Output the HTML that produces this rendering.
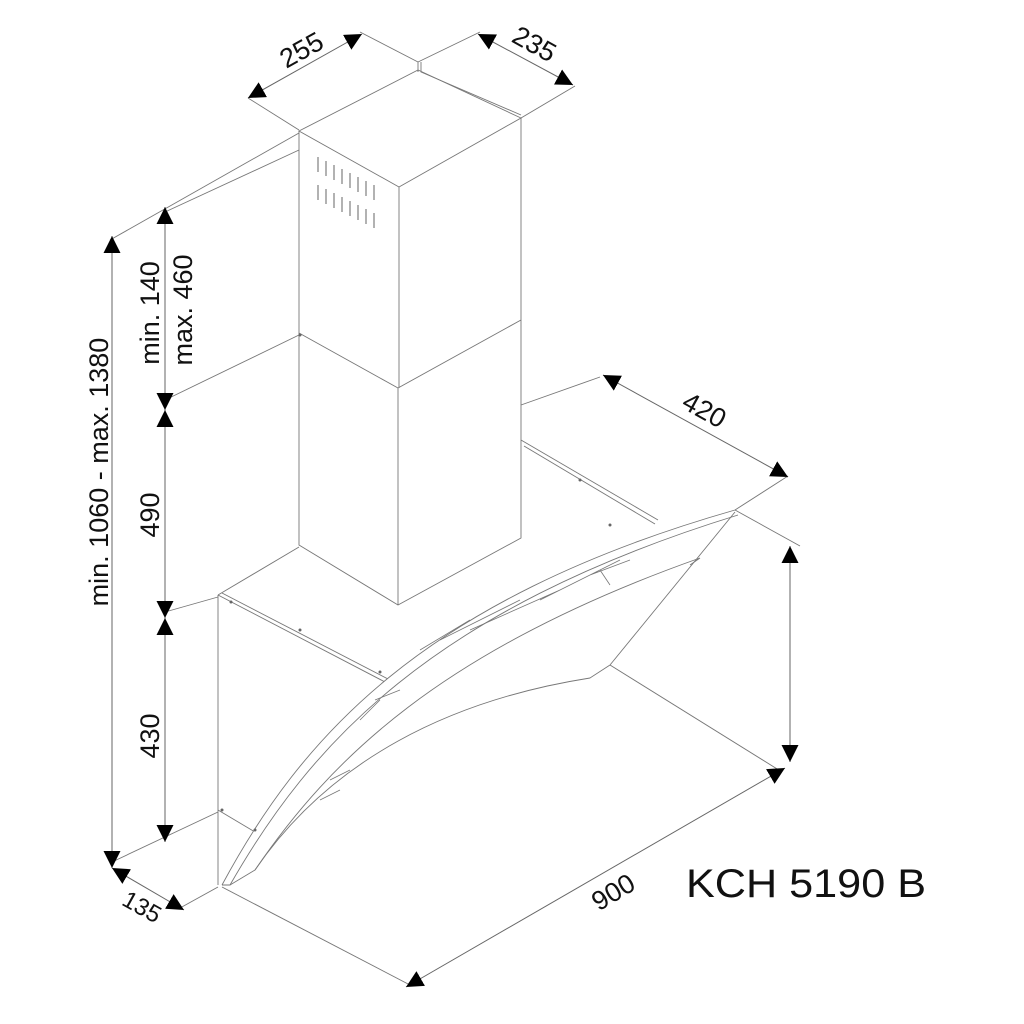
<!DOCTYPE html>
<html><head><meta charset="utf-8"><style>
html,body{margin:0;padding:0;background:#fff;}
svg{display:block;}
text{font-family:"Liberation Sans",sans-serif;fill:#111;}
</style></head><body>
<svg width="1024" height="1024" viewBox="0 0 1024 1024" xmlns="http://www.w3.org/2000/svg">
<defs>
<marker id="a" viewBox="0 0 10 10" refX="10" refY="5" markerWidth="17" markerHeight="17" markerUnits="userSpaceOnUse" orient="auto-start-reverse"><path d="M0,0 L10,5 L0,10 z" fill="#000"/></marker>
</defs>
<g fill="none" stroke="#777" stroke-width="0.9">
<polygon points="299,131 418,70 521,118 399,187" fill="#fff"/>
<line x1="299" y1="131" x2="299" y2="333"/>
<line x1="399" y1="187" x2="399" y2="388"/>
<line x1="521" y1="118" x2="521" y2="320"/>
<path d="M418,72 L418,62 M421,62 L421,72 L521,115"/>
<g stroke="#555">
<path d="M318,157v15M326,161v15M334,165v15M342,169v15M350,173v15M358,177v15M366,181v15M374,185v15"/>
<path d="M318,185v15M326,189v15M334,193v15M342,197v15M350,201v15M358,205v15M366,209v15M374,213v15"/>
</g>
<polyline points="299,333 398,388 521,320"/>
<line x1="398" y1="388" x2="398" y2="605"/>
<polyline points="299,333 299,545 398,605 521,538 521,320"/>
<line x1="218" y1="595" x2="218" y2="885"/>
<polyline points="218,595 299,547"/>
<path d="M218,595 L385,682 M222,593 L388,679"/>
<line x1="521" y1="440" x2="658" y2="520"/>
<line x1="524" y1="446" x2="655" y2="524"/>
<line x1="521" y1="405" x2="600" y2="377"/>
<line x1="218" y1="810" x2="255" y2="832"/>
<path d="M222,885 C300,740 420,600 735,510" fill="#fff"/>
<path d="M222,885 L230,885 C310,745 430,610 738,515"/>
<path d="M255,870 C330,760 440,650 700,558 L690,565"/>
<line x1="735" y1="512" x2="610" y2="665"/>
<path d="M610,665 L590,678 C450,700 330,760 255,870 L230,885"/>
<line x1="610" y1="665" x2="782" y2="772"/>
<line x1="735" y1="510" x2="800" y2="546"/>
<line x1="735" y1="510" x2="788" y2="476"/>
<line x1="222" y1="887" x2="410" y2="985"/>
<line x1="110" y1="240" x2="299" y2="133"/>
<line x1="165" y1="400" x2="299" y2="335"/>
<line x1="165" y1="612" x2="218" y2="597"/>
<line x1="112" y1="862" x2="218" y2="812"/>
<line x1="180" y1="908" x2="218" y2="887"/>
<line x1="248" y1="98" x2="299" y2="130"/>
<line x1="360" y1="32" x2="418" y2="62"/>
<line x1="418" y1="62" x2="480" y2="32"/>
<line x1="521" y1="118" x2="575" y2="86"/>
<line x1="165" y1="212" x2="299" y2="150"/>
</g>
<g stroke="#777" stroke-width="0.8" fill="none">
<path d="M420,650 L470,620 M440,640 L520,600 M470,630 L560,590 M540,600 L620,560 M590,575 L630,560 M600,570 L610,585"/>
<path d="M330,780 L350,770 M320,800 L340,790 M360,720 L380,700 M375,700 L400,690"/>
</g>
<g fill="#666">
<circle cx="300" cy="335" r="1.5"/><circle cx="231" cy="602" r="1.5"/><circle cx="300" cy="630" r="1.5"/><circle cx="380" cy="672" r="1.5"/><circle cx="610" cy="525" r="1.5"/><circle cx="580" cy="480" r="1.5"/><circle cx="222" cy="810" r="1.5"/><circle cx="255" cy="830" r="1.5"/>
</g>
<g stroke="#666" stroke-width="1" marker-start="url(#a)" marker-end="url(#a)">
<line x1="248" y1="98" x2="362" y2="34"/>
<line x1="478" y1="34" x2="573" y2="85"/>
<line x1="603" y1="375" x2="788" y2="477"/>
<line x1="790" y1="546" x2="790" y2="762"/>
<line x1="406" y1="987" x2="785" y2="768"/>
<line x1="112" y1="236" x2="112" y2="868"/>
<line x1="165" y1="207" x2="165" y2="410"/>
<line x1="165" y1="410" x2="165" y2="618"/>
<line x1="165" y1="618" x2="165" y2="842"/>
<line x1="112" y1="868" x2="184" y2="910"/>
</g>
<g font-size="27">
<text transform="translate(306,58) rotate(-29)" text-anchor="middle">255</text>
<text transform="translate(530,52) rotate(29)" text-anchor="middle">235</text>
<text transform="translate(700,418) rotate(29)" text-anchor="middle">420</text>
<text transform="translate(618,900) rotate(-31)" text-anchor="middle">900</text>
<text transform="translate(138,914) rotate(29)" text-anchor="middle" font-size="24">135</text>
<text transform="translate(159,313) rotate(-90)" text-anchor="middle">min. 140</text>
<text transform="translate(192,310) rotate(-90)" text-anchor="middle">max. 460</text>
<text transform="translate(159,515) rotate(-90)" text-anchor="middle">490</text>
<text transform="translate(159,736) rotate(-90)" text-anchor="middle">430</text>
<text transform="translate(108,472) rotate(-90)" text-anchor="middle">min. 1060 - max. 1380</text>
</g>
<text x="686" y="897" font-size="40" textLength="240" lengthAdjust="spacingAndGlyphs">KCH 5190 B</text>
</svg>
</body></html>
